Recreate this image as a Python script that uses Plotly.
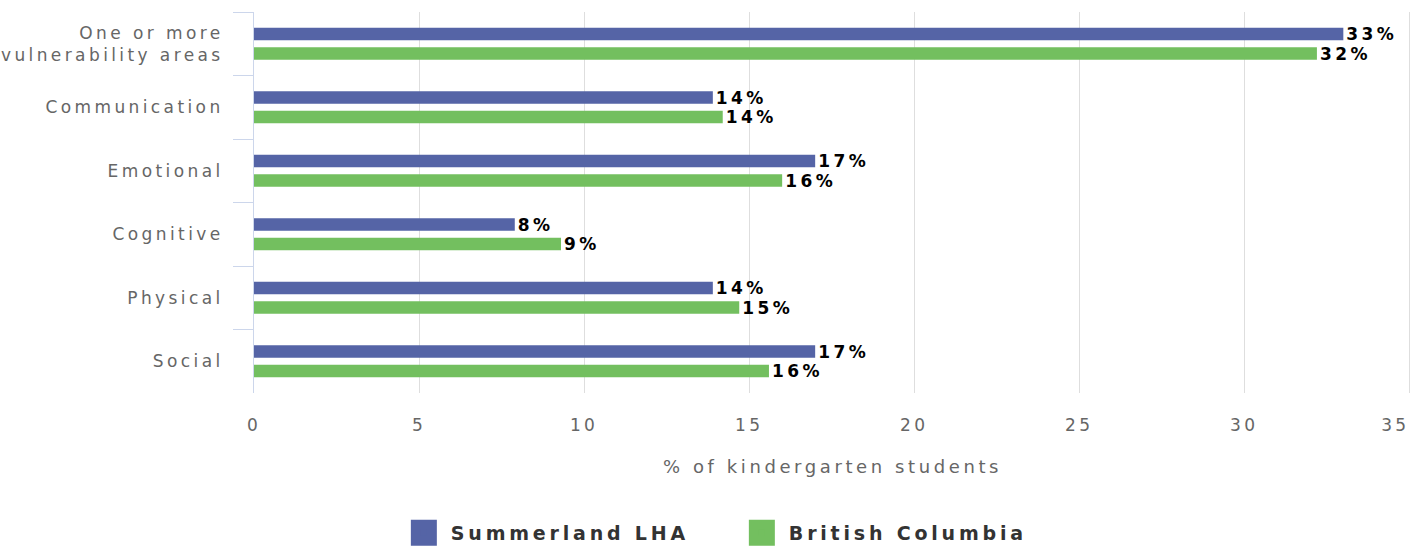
import plotly.graph_objects as go

# ---- data ----
categories = ["One or more<br>vulnerability areas", "Communication", "Emotional",
              "Cognitive", "Physical", "Social"]
summerland = [33.0, 13.9, 17.0, 7.9, 13.9, 17.0]
british_columbia = [32.2, 14.2, 16.0, 9.3, 14.7, 15.6]
series_names = ["Summerland LHA", "British Columbia"]
x_tick_values = [0, 5, 10, 15, 20, 25, 30, 35]
x_title = "% of kindergarten students"

colors = ["#5564a6", "#73bf5f"]
FONT = "DejaVu Sans"

fig = go.Figure()
for name, vals, col in zip(series_names, [summerland, british_columbia], colors):
    fig.add_trace(go.Bar(
        y=categories, x=vals, name=name, orientation="h",
        marker=dict(color=col, line=dict(width=0)),
        text=[f"{round(v)}%" for v in vals],
        texttemplate="%{text}",
        textposition="outside",
        constraintext="none",
        cliponaxis=False,
        textfont=dict(size=17, color="#000000", weight="bold"),
        showlegend=False,
        hoverinfo="skip",
    ))
    # legend proxy with a larger square symbol
    fig.add_trace(go.Scatter(
        x=[None], y=[None], mode="markers", name=name,
        marker=dict(symbol="square", size=16, color=col, line=dict(color=col, width=1)),
        hoverinfo="skip",
    ))

fig.update_layout(
    width=1420, height=546,
    margin=dict(l=254, r=9, t=12, b=153, autoexpand=False),
    paper_bgcolor="white", plot_bgcolor="white",
    font=dict(family=FONT, size=17, color="#666666"),
    barmode="group", bargap=0.386, bargroupgap=0.36,
    legend=dict(
        orientation="h", xref="container", yref="container",
        x=0.5175, xanchor="center", y=0.024, yanchor="middle",
        font=dict(size=19, color="#333333", weight="bold"),
        entrywidth=279, entrywidthmode="pixels", itemwidth=44,
        itemclick=False, itemdoubleclick=False,
    ),
    xaxis=dict(
        range=[0, 35.05], tickvals=x_tick_values, showgrid=True,
        gridcolor="#dedede", gridwidth=1, zeroline=False, showline=False,
        tickfont=dict(size=17, color="#666666"), ticklabelstandoff=20,
        ticklabeloverflow="allow",
        title=dict(text=x_title, font=dict(size=18, color="#666666"), standoff=26),
        automargin=False, fixedrange=True,
    ),
    yaxis=dict(
        autorange="reversed", showline=True, linecolor="#ccd6eb", linewidth=1,
        ticks="outside", tickson="boundaries", ticklen=20, tickcolor="#ccd6eb",
        tickwidth=1, showgrid=False, tickfont=dict(size=17, color="#666666"),
        ticklabelstandoff=26, automargin=False, fixedrange=True,
    ),
)

post = """
var st=document.createElement('style');
st.textContent='html,body{margin:0;padding:0;}'
 + ' svg text{letter-spacing:0.2em !important;}'
 + ' text.bartext{translate:7px 0;}'
 + ' g.xaxislayer-above g.xtick:last-of-type text{translate:-14px 0;}'
 + ' g.legendpoints path.scatterpts{stroke-width:10px !important;stroke-linejoin:miter;}';
document.head.appendChild(st);
var gd=document.getElementById('{plot_id}');
Plotly.relayout(gd,{'font.family':'DejaVu Sans, sans-serif'});
"""

fig.write_html("out.html", post_script=post, config={"displayModeBar": False})
